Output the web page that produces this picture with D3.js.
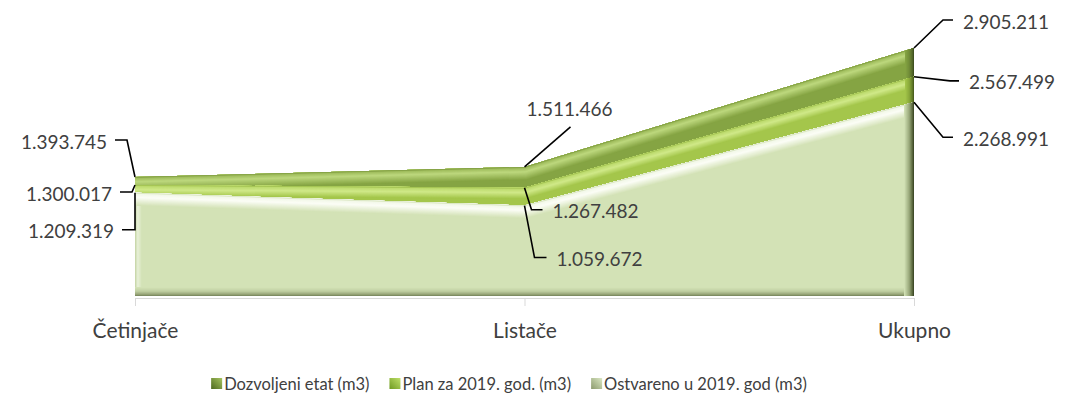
<!DOCTYPE html>
<html>
<head>
<meta charset="utf-8">
<script src="https://cdn.jsdelivr.net/npm/d3@7"></script>
<style>
  body { margin: 0; background: #fff; }
  svg text { font-family: Lato, "Open Sans", sans-serif; fill: #404040; }
</style>
</head>
<body>
<div id="chart"></div>
<script>
// data
const categories = ["Četinjače", "Listače", "Ukupno"];
const seriesNames = ["Dozvoljeni etat (m3)", "Plan za 2019. god. (m3)", "Ostvareno u 2019. god (m3)"];
const dozvoljeni = [1393745, 1511466, 2905211];
const plan = [1300017, 1267482, 2567499];
const ostvareno = [1209319, 1059672, 2268991];

const seriesValues = [dozvoljeni, plan, ostvareno];

// look of each series (back to front)
const looks = [
    { base: "#85a443", top: [[0, "#6f8c33"], [1.5, "#a0bd5d"], [5, "#bdd87e"], [13, "#85a443"]],
      side: [[0, "#34431a"], [2, "#55692a"], [5, "#718c38"], [9, "#85a443"]],
      left: [[0, "#7d9b3b"], [3, "#b3ce72"], [7, "#85a443"]],
      legend: ["#4d691f", "#a6c460"] },
    { base: "#a4c64b", top: [[0, "#8fb13c"], [1.5, "#bddb6e"], [5, "#d0e989"], [11, "#a4c64b"]],
      side: [[0, "#3d4f19"], [2, "#637c29"], [5, "#89a83b"], [9, "#a4c64b"]],
      left: [[0, "#94b540"], [3, "#c4df7c"], [7, "#a4c64b"]],
      legend: ["#6f9a22", "#bfe06a"] },
    { base: "#d3e2b6", top: [[0, "#c6d8a3"], [1.5, "#f3f8e9"], [5, "#fbfdf6"], [13, "#d3e2b6"]],
      side: [[0, "#2f3a1c"], [2, "#5d6b40"], [5, "#98a77a"], [10, "#d3e2b6"]],
      left: [[0, "#c0d19d"], [3, "#e8f0d8"], [7, "#d3e2b6"]],
      bottom: [[0, "#6f7b55"], [2, "#98a679"], [5, "#bfcea1"], [9, "#d3e2b6"]],
      legend: ["#8c9a6e", "#dbe8c4"] }
];

// leader lines: offset of elbow from point, horizontal run, text side
const leaders = [
    [{ ex: -8, ey: -37, h: -12 }, { ex: 46, ey: -40, h: 0, above: true }, { ex: 29, ey: -28, h: 10 }],
    [{ ex: -3, ey: 7, h: -12 }, { ex: 7, ey: 22, h: 11 }, { ex: 36, ey: 4, h: 9 }],
    [{ ex: 0, ey: 37, h: -13 }, { ex: 10, ey: 52, h: 12 }, { ex: 29, ey: 35, h: 10 }]
];

const width = 1065, height = 404;

const svg = d3.select("#chart").append("svg")
    .attr("width", width)
    .attr("height", height);

const defs = svg.append("defs");

const x = d3.scalePoint().domain(categories).range([135, 914]);
const y = d3.scaleLinear().domain([0, d3.max(dozvoljeni)]).range([296, 48]);

const fmt = d3.formatLocale({ decimal: ",", thousands: ".", grouping: [3], currency: ["", ""] }).format(",d");

const topLine = d3.line().x((d, i) => x(categories[i])).y(d => y(d));

function bevel(g, d, stops) {
    const col = d3.scaleLinear().domain(stops.map(s => s[0])).range(stops.map(s => s[1]));
    const depth = stops[stops.length - 1][0];
    d3.range(depth, 0, -0.5).forEach(t => {
        g.append("path")
            .attr("d", d)
            .attr("fill", "none")
            .attr("stroke", col(t))
            .attr("stroke-width", t * 2)
            .attr("stroke-linejoin", "miter");
    });
}

const x0 = x(categories[0]), x2 = x(categories[categories.length - 1]), base = y(0);

seriesValues.forEach((vals, si) => {
    const look = looks[si];
    const area = d3.area().x((d, i) => x(categories[i])).y0(base).y1(d => y(d));
    defs.append("clipPath").attr("id", "clip" + si)
        .append("path").attr("d", area(vals));

    const g = svg.append("g").attr("class", "series");
    g.append("path").attr("d", area(vals)).attr("fill", look.base);

    const b = g.append("g").attr("clip-path", `url(#clip${si})`);
    bevel(b.append("g"), `M${x0},${base}L${x0},${y(vals[0])}`, look.left);
    if (look.bottom) bevel(b.append("g"), `M${x0},${base}L${x2},${base}`, look.bottom);
    bevel(b.append("g"), topLine(vals), look.top);
    bevel(b.append("g"), `M${x2},${y(vals[vals.length - 1])}L${x2},${base}`, look.side);
});

// axis
const axis = svg.append("g")
    .attr("transform", `translate(0,${base + 2})`)
    .call(d3.axisBottom(x).tickSize(8).tickSizeOuter(0).tickPadding(17));
axis.select(".domain").attr("stroke", "#d9d9d9");
axis.selectAll(".tick line").attr("stroke", "#d9d9d9");
axis.selectAll(".tick text")
    .style("font-size", "21px")
    .attr("fill", "#404040");

// data labels with leader lines
seriesValues.forEach((vals, si) => {
    vals.forEach((v, ci) => {
        const L = leaders[si][ci];
        const px = x(categories[ci]), py = y(v);
        const ex = px + L.ex, ey = py + L.ey, hx = ex + L.h;
        svg.append("path")
            .attr("d", `M${px},${py}L${ex},${ey}L${hx},${ey}`)
            .attr("fill", "none")
            .attr("stroke", "#000")
            .attr("stroke-width", 1.6);
        const t = svg.append("text")
            .style("font-size", "19px")
            .attr("dominant-baseline", "central")
            .text(fmt(v));
        if (L.above) {
            t.attr("x", ex - 1).attr("y", ey - 18).attr("text-anchor", "middle");
        } else if (L.h < 0) {
            t.attr("x", hx - 8).attr("y", ey + 1).attr("text-anchor", "end");
        } else {
            t.attr("x", hx + 10).attr("y", ey + 1).attr("text-anchor", "start");
        }
    });
});

// legend, centred under the plot
const legend = svg.append("g");
let lx = 0;
seriesNames.forEach((name, i) => {
    const gid = "lg" + i;
    const grad = defs.append("linearGradient").attr("id", gid)
        .attr("x1", 0).attr("y1", 1).attr("x2", 1).attr("y2", 0);
    grad.append("stop").attr("offset", "0%").attr("stop-color", looks[i].legend[0]);
    grad.append("stop").attr("offset", "100%").attr("stop-color", looks[i].legend[1]);
    const item = legend.append("g").attr("transform", `translate(${lx},0)`);
    item.append("rect")
        .attr("x", 0).attr("y", -6).attr("width", 11).attr("height", 11)
        .attr("fill", `url(#${gid})`);
    const t = item.append("text")
        .attr("x", 13).attr("y", 0)
        .attr("dominant-baseline", "central")
        .style("font-size", "16.5px")
        .text(name);
    lx += 13 + t.node().getComputedTextLength() + 20;
});
legend.attr("transform", `translate(${509 - (lx - 20) / 2},384)`);
</script>
</body>
</html>
